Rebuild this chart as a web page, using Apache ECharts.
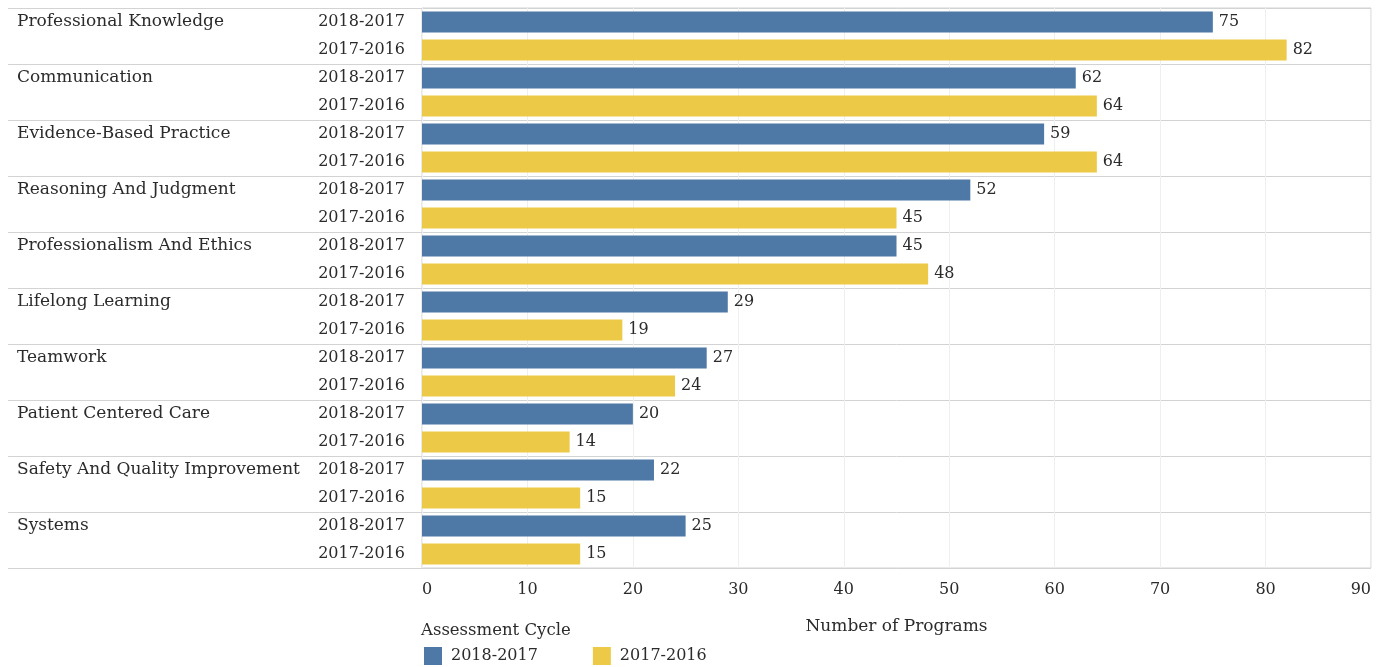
<!DOCTYPE html>
<html>
<head>
<meta charset="utf-8">
<script src="https://cdn.jsdelivr.net/npm/echarts@6/dist/echarts.min.js"></script>
<style>
  html, body { margin: 0; padding: 0; background: #fff; }
  #chart { width: 1379px; height: 667px; }
</style>
</head>
<body>
<div id="chart"></div>
<script>
// skill areas, top to bottom
const skills = [
  'Professional Knowledge', 'Communication', 'Evidence-Based Practice',
  'Reasoning And Judgment', 'Professionalism And Ethics', 'Lifelong Learning',
  'Teamwork', 'Patient Centered Care', 'Safety And Quality Improvement', 'Systems'
];
const cycles = ['2018-2017', '2017-2016'];
const values1817 = [75, 62, 59, 52, 45, 29, 27, 20, 22, 25];
const values1716 = [82, 64, 64, 45, 48, 19, 24, 14, 15, 15];
const xTicks = [0, 90, 10]; // min, max, step

// one row per (skill, cycle)
let rowCycle = [];
let rowSkill = [];
let blueData = [];
let yellowData = [];
for (let i = 0; i < skills.length; i++) {
  rowCycle.push(cycles[0], cycles[1]);
  rowSkill.push(skills[i], '');
  blueData.push(values1817[i], '-');
  yellowData.push('-', values1716[i]);
}

const font = 'DejaVu Serif';
const txt = '#2b2b2b';
const lineCol = '#d3d3d3';
const fs = 16;     // numbers
const fsWord = 17; // word labels
const everyGroup = function (idx) { return idx % 2 === 0; };

const barLabel = {
  show: true,
  position: 'right',
  distance: 6,
  color: txt,
  fontFamily: font,
  fontSize: fs
};

const option = {
  animation: false,
  textStyle: { fontFamily: font },
  title: {
    text: 'Assessment Cycle',
    left: 421,
    top: 622,
    padding: 0,
    textStyle: { fontFamily: font, fontSize: 16.5, fontWeight: 'normal', color: txt }
  },
  legend: {
    left: 424,
    top: 647,
    padding: 0,
    icon: 'rect',
    itemWidth: 18,
    itemHeight: 18,
    itemGap: 55,
    textStyle: { fontFamily: font, fontSize: fs, color: txt, padding: [0, 0, 0, 4] },
    data: cycles
  },
  grid: {
    left: 422, right: 8, top: 8, bottom: 99,
    outerBoundsMode: 'none',
    containLabel: false,
    show: true,
    borderColor: lineCol,
    borderWidth: 1
  },
  xAxis: {
    type: 'value',
    min: xTicks[0],
    max: xTicks[1],
    interval: xTicks[2],
    name: 'Number of Programs',
    nameLocation: 'middle',
    nameGap: 50,
    nameTextStyle: { fontFamily: font, fontSize: fsWord, color: txt },
    axisLine: { show: false },
    axisTick: { show: false },
    axisLabel: {
      margin: 14, color: txt, fontFamily: font, fontSize: fs,
      alignMinLabel: 'left', alignMaxLabel: 'right'
    },
    splitLine: { lineStyle: { color: '#efefef' } }
  },
  yAxis: [
    {
      type: 'category',
      position: 'left',
      inverse: true,
      data: rowCycle,
      axisLine: { show: false },
      axisTick: { show: false },
      axisLabel: { margin: 17, interval: 0, color: txt, fontFamily: font, fontSize: fs },
      splitLine: { show: true, interval: everyGroup, lineStyle: { color: lineCol } }
    },
    {
      type: 'category',
      position: 'left',
      offset: 0,
      inverse: true,
      data: rowSkill,
      axisLine: { show: false },
      axisTick: { show: true, interval: everyGroup, length: 414, lineStyle: { color: lineCol } },
      axisLabel: { align: 'left', margin: 405, interval: 0, color: txt, fontFamily: font, fontSize: fsWord }
    }
  ],
  series: [
    {
      name: cycles[0],
      type: 'bar',
      yAxisIndex: 0,
      data: blueData,
      barWidth: 21,
      barGap: '-100%',
      itemStyle: { color: '#4e79a7' },
      label: barLabel
    },
    {
      name: cycles[1],
      type: 'bar',
      yAxisIndex: 0,
      data: yellowData,
      barWidth: 21,
      barGap: '-100%',
      itemStyle: { color: '#edc948' },
      label: barLabel
    }
  ]
};

const chart = echarts.init(document.getElementById('chart'));
chart.setOption(option);
window.addEventListener('resize', function () {
  chart.resize();
});
</script>
</body>
</html>
